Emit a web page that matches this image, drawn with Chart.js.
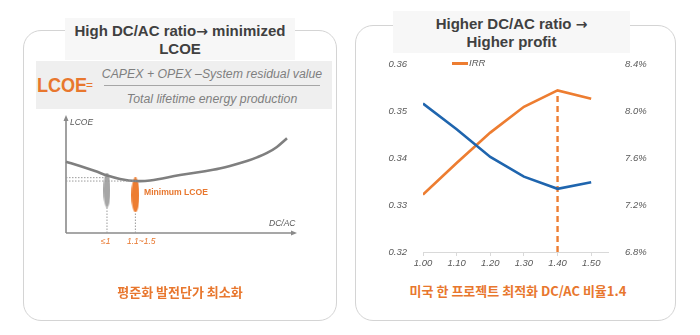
<!DOCTYPE html>
<html>
<head>
<meta charset="utf-8">
<script src="https://cdn.jsdelivr.net/npm/chart.js@4.4.1/dist/chart.umd.min.js"></script>
<style>
  html,body{margin:0;padding:0;background:#fff;}
  body{width:700px;height:335px;position:relative;overflow:hidden;font-family:"Liberation Sans",Arial,sans-serif;}
  .abs{position:absolute;}
  .panel{position:absolute;border:1px solid #d4d4d4;border-radius:18px;box-sizing:border-box;}
  .tbox{position:absolute;background:#f7f7f7;color:#404040;font-weight:bold;font-size:15px;line-height:18px;text-align:center;}
  .arr{font-family:"DejaVu Sans",sans-serif;font-size:14px;}
  .ko{position:absolute;color:#E8772E;font-weight:bold;font-size:13px;font-family:"Noto Sans CJK KR","Liberation Sans",sans-serif;white-space:nowrap;text-align:center;}
  .small{position:absolute;font-style:italic;font-size:8.5px;color:#595959;white-space:nowrap;}
</style>
</head>
<body>
<script>
// ---------- DATA ----------
// Right chart: DC/AC ratio vs LCOE (left axis) and IRR (right axis)
const dcacRatios = [1.00, 1.10, 1.20, 1.30, 1.40, 1.50];
const lcoeValues = [0.3517, 0.3462, 0.3403, 0.3361, 0.3335, 0.3349];
const irrValues  = [7.29, 7.56, 7.82, 8.04, 8.18, 8.11];
const xTickValues = [1.00, 1.10, 1.20, 1.30, 1.40, 1.50];
const optimumRatio = 1.40;
// Left schematic: conceptual LCOE curve vs DC/AC
const schemX = [0, 0.61, 1.27, 1.79, 2.36, 3.06, 3.67, 4.98, 6.42, 7.16, 7.90, 8.34, 8.78, 9.21, 9.65];
const schemY = [6.15, 5.78, 5.34, 4.96, 4.66, 4.48, 4.53, 5.00, 5.45, 5.78, 6.20, 6.52, 6.90, 7.42, 8.16];
const markerX = [1.79, 3.03];
const markerY = [3.70, 3.28];
const guideY = [4.77, 4.48];
const guideTopY = [2.2, 1.8];
</script>

<div class="panel" style="left:23px;top:30px;width:314px;height:291px;"></div>
<div class="panel" style="left:355px;top:25px;width:321px;height:296px;"></div>

<div class="tbox" style="left:65px;top:18px;width:230px;height:42px;padding-top:4px;box-sizing:border-box;">High DC/AC ratio<span class="arr">→</span> minimized<br>LCOE</div>
<div class="tbox" style="left:393px;top:11px;width:237px;height:42px;padding-top:4px;box-sizing:border-box;">Higher DC/AC ratio <span class="arr">→</span><br>Higher profit</div>

<!-- formula -->
<div class="abs" style="left:36px;top:61px;width:296px;height:48px;background:#efefef;"></div>
<div class="abs" style="left:37px;top:72px;color:#E8772E;font-weight:bold;font-size:21px;line-height:26px;transform:scaleX(0.86);transform-origin:left top;">LCOE</div>
<div class="abs" style="left:86px;top:78px;color:#E8772E;font-size:12px;line-height:14px;">=</div>
<div class="abs" style="left:100px;top:67px;width:224px;text-align:center;color:#7f7f7f;font-style:italic;font-size:12.3px;line-height:14px;white-space:nowrap;">CAPEX + OPEX –System residual value</div>
<div class="abs" style="left:104px;top:85px;width:216px;height:1px;background:#a6a6a6;"></div>
<div class="abs" style="left:100px;top:92px;width:224px;text-align:center;color:#7f7f7f;font-style:italic;font-size:12.3px;line-height:14px;white-space:nowrap;">Total lifetime energy production</div>

<!-- left schematic -->
<canvas id="schem" class="abs" style="left:46px;top:97px;width:269px;height:156px;" width="269" height="156"></canvas>
<div class="small" style="left:70px;top:117px;">LCOE</div>
<div class="small" style="left:269px;top:218px;">DC/AC</div>
<div class="abs" style="left:144px;top:187px;color:#E8772E;font-weight:bold;font-size:8.6px;white-space:nowrap;">Minimum LCOE</div>
<div class="small" style="left:101px;top:236px;color:#E8772E;">≤1</div>
<div class="small" style="left:127px;top:236px;color:#E8772E;">1.1~1.5</div>
<div class="ko" style="left:80px;top:282px;width:200px;">평준화 발전단가 최소화</div>

<!-- right chart -->
<canvas id="main" class="abs" style="left:380px;top:50px;width:280px;height:225px;" width="280" height="225"></canvas>
<div class="abs" style="left:452px;top:62px;width:16px;height:2.5px;background:#ED7D31;"></div>
<div class="abs" style="left:469px;top:57px;font-style:italic;font-size:9.5px;color:#595959;">IRR</div>
<div class="ko" style="left:400px;top:281px;width:236px;">미국 한 프로젝트 최적화 DC/AC 비율1.4</div>

<script>
const ORANGE = '#ED7D31';
const BLUE = '#1F65AE';
const GRAYTXT = '#595959';

function ellipseImg(w, h, color){
  const c = document.createElement('canvas');
  c.width = w; c.height = h;
  const g = c.getContext('2d');
  g.fillStyle = color;
  g.beginPath();
  g.ellipse(w/2, h/2, w/2, h/2, 0, 0, Math.PI*2);
  g.fill();
  return c;
}

// ---------- left schematic ----------
const axesArrows = {
  id:'axesArrows',
  beforeDatasetsDraw(chart){
    const {ctx, chartArea:a} = chart;
    ctx.save();
    ctx.strokeStyle = '#8a8a8a'; ctx.fillStyle = '#8a8a8a'; ctx.lineWidth = 1.6;
    ctx.beginPath();
    ctx.moveTo(a.left, a.bottom); ctx.lineTo(a.left, a.top+2);
    ctx.moveTo(a.left, a.bottom); ctx.lineTo(a.right-2, a.bottom);
    ctx.stroke();
    ctx.beginPath();
    ctx.moveTo(a.left, a.top-2); ctx.lineTo(a.left-2.5, a.top+4); ctx.lineTo(a.left+2.5, a.top+4); ctx.closePath(); ctx.fill();
    ctx.beginPath();
    ctx.moveTo(a.right+2, a.bottom); ctx.lineTo(a.right-4, a.bottom-2.5); ctx.lineTo(a.right-4, a.bottom+2.5); ctx.closePath(); ctx.fill();
    ctx.restore();
  }
};
const dotted = {borderColor:'#9a9a9a', borderWidth:1, borderDash:[1.5,1.5], pointRadius:0, fill:false, clip:false};
new Chart(document.getElementById('schem'), {
  type:'scatter',
  data:{datasets:[
    {data: markerX.map((x,i)=>({x, y:guideY[i]})).flatMap((p)=>[{x:0,y:p.y},p,{x:NaN,y:NaN}]), showLine:true, spanGaps:false, ...dotted},
    {data: markerX.map((x,i)=>[{x, y:0},{x, y:guideTopY[i]},{x:NaN,y:NaN}]).flat(), showLine:true, spanGaps:false, ...dotted},
    {data: schemX.map((x,i)=>({x, y:schemY[i]})), showLine:true, borderColor:'#7f7f7f', borderWidth:2.6, pointRadius:0, tension:0.4, clip:false},
    {data: markerX.map((x,i)=>({x, y:markerY[i]})), pointStyle:[ellipseImg(7,35,'#a6a6a6'), ellipseImg(8,35,ORANGE)], clip:false}
  ]},
  options:{
    responsive:false, animation:false, devicePixelRatio:1,
    layout:{padding:{left:20,right:20,top:20,bottom:20}},
    plugins:{legend:{display:false}, tooltip:{enabled:false}},
    scales:{
      x:{type:'linear', min:0, max:10, display:false},
      y:{type:'linear', min:0, max:10, display:false}
    }
  },
  plugins:[axesArrows]
});

// ---------- right chart ----------
const tickFont = {family:'"Liberation Sans", Arial, sans-serif', size:9.5, style:'italic'};
new Chart(document.getElementById('main'), {
  type:'scatter',
  data:{datasets:[
    {label:'LCOE', data: dcacRatios.map((x,i)=>({x, y:lcoeValues[i]})), showLine:true, borderColor:BLUE, borderWidth:2.6, pointRadius:0, yAxisID:'y', tension:0},
    {label:'IRR', data: dcacRatios.map((x,i)=>({x, y:irrValues[i]})), showLine:true, borderColor:ORANGE, borderWidth:2.6, pointRadius:0, yAxisID:'y1', tension:0},
    {label:'opt', data:[{x:optimumRatio, y:6.8},{x:optimumRatio, y:irrValues[dcacRatios.indexOf(optimumRatio)]}], showLine:true, borderColor:ORANGE, borderWidth:2.4, borderDash:[6,4], pointRadius:0, yAxisID:'y1'}
  ]},
  options:{
    responsive:false, animation:false, devicePixelRatio:1,
    layout:{padding:{top:12, left:0, right:0, bottom:0}},
    plugins:{legend:{display:false}, tooltip:{enabled:false}},
    scales:{
      x:{type:'linear', min:1.0, max:1.55,
         afterBuildTicks:(s)=>{s.ticks = xTickValues.map(v=>({value:v}));},
         afterFit:(s)=>{s.height = 23;},
         grid:{display:true, drawOnChartArea:false, drawTicks:true, tickLength:4, color:'#d9d9d9'},
         border:{display:true, color:'#d9d9d9', width:1},
         ticks:{font:tickFont, color:GRAYTXT, padding:2, maxRotation:0, callback:(v)=>Number(v).toFixed(2)}},
      y:{type:'linear', position:'left', min:0.32, max:0.36,
         afterBuildTicks:(s)=>{s.ticks = [0.32,0.33,0.34,0.35,0.36].map(v=>({value:v}));},
         afterFit:(s)=>{s.width = 43;},
         grid:{display:false}, border:{display:false},
         ticks:{font:tickFont, color:GRAYTXT, padding:8, callback:(v)=>Number(v).toFixed(2)}},
      y1:{type:'linear', position:'right', min:6.8, max:8.4,
         afterBuildTicks:(s)=>{s.ticks = [6.8,7.2,7.6,8.0,8.4].map(v=>({value:v}));},
         afterFit:(s)=>{s.width = 52;},
         grid:{display:false}, border:{display:false},
         ticks:{font:tickFont, color:GRAYTXT, padding:9, callback:(v)=>Number(v).toFixed(1)+'%'}}
    }
  }
});
</script>
</body>
</html>
